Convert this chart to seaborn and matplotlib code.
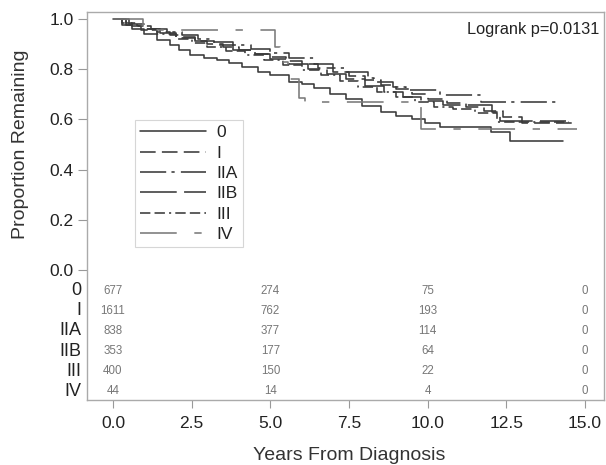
import numpy as np
import pandas as pd
import matplotlib
matplotlib.use('Agg')
import matplotlib.pyplot as plt
import seaborn as sns

# survival curves (step points: time in years, proportion remaining)
stages = ['0', 'I', 'IIA', 'IIB', 'III', 'IV']

t_0 = [0, 0.3, 0.6, 1.0, 1.4, 1.8, 2.1, 2.45, 2.9, 3.3, 3.7, 4.1, 4.6, 5.0, 5.6, 6.0,
       6.4, 6.9, 7.4, 7.9, 8.5, 9.0, 9.5, 9.9, 10.4, 12.0, 12.6, 14.3]
s_0 = [1, 0.975, 0.96, 0.94, 0.918, 0.895, 0.875, 0.855, 0.845, 0.835, 0.826, 0.81, 0.79,
       0.775, 0.751, 0.74, 0.725, 0.70, 0.68, 0.655, 0.63, 0.615, 0.60, 0.585, 0.571,
       0.551, 0.514, 0.514]

t_I = [0, 0.3, 0.6, 1.0, 1.4, 1.8, 2.2, 2.6, 3.0, 3.5, 4.0, 4.5, 5.0, 5.5, 6.0, 6.5, 7.0,
       7.5, 8.0, 8.5, 9.0, 9.5, 10.0, 10.6, 11.2, 11.8, 12.4, 13.0, 14.6]
s_I = [1, 0.985, 0.972, 0.96, 0.948, 0.937, 0.925, 0.914, 0.902, 0.89, 0.876, 0.862, 0.848,
       0.834, 0.82, 0.805, 0.79, 0.773, 0.756, 0.738, 0.72, 0.70, 0.68, 0.664, 0.65, 0.635,
       0.61, 0.585, 0.585]

t_IIA = [0, 0.4, 0.8, 1.2, 1.7, 2.2, 2.7, 3.2, 3.8, 4.4, 5.0, 5.6, 6.4, 7.0, 7.4, 8.1, 8.3,
         8.9, 9.3, 10.4, 11.7, 14.1]
s_IIA = [1, 0.985, 0.972, 0.96, 0.948, 0.935, 0.922, 0.91, 0.895, 0.88, 0.865, 0.845, 0.82,
         0.805, 0.79, 0.765, 0.75, 0.73, 0.718, 0.698, 0.669, 0.669]

t_IIB = [0, 0.5, 1.0, 1.5, 2.0, 2.6, 3.2, 3.8, 4.4, 5.0, 5.6, 6.2, 6.8, 7.4, 8.0, 8.6, 9.2,
         9.8, 10.5, 12.03, 12.3, 14.4]
s_IIB = [1, 0.98, 0.962, 0.945, 0.93, 0.912, 0.895, 0.878, 0.86, 0.842, 0.822, 0.80, 0.78,
         0.76, 0.735, 0.71, 0.69, 0.672, 0.658, 0.631, 0.595, 0.595]

t_III = [0, 0.4, 0.9, 1.4, 2.0, 2.5, 3.0, 3.6, 4.2, 4.8, 5.4, 6.0, 6.6, 7.2, 7.8, 8.4, 9.0,
         9.6, 10.2, 10.8, 11.5, 12.2, 14.5]
s_III = [1, 0.978, 0.958, 0.94, 0.92, 0.905, 0.89, 0.872, 0.855, 0.835, 0.815, 0.795, 0.775,
         0.752, 0.73, 0.708, 0.688, 0.668, 0.65, 0.64, 0.625, 0.59, 0.59]

t_IV = [0, 0.95, 1.4, 5.15, 5.3, 5.55, 5.9, 6.1, 9.8, 14.75]
s_IV = [1, 0.977, 0.955, 0.89, 0.83, 0.76, 0.684, 0.671, 0.56, 0.56]

# numbers at risk
risk_times = [0, 5, 10, 15]
risk_0 = [677, 274, 75, 0]
risk_I = [1611, 762, 193, 0]
risk_IIA = [838, 377, 114, 0]
risk_IIB = [353, 177, 64, 0]
risk_III = [400, 150, 22, 0]
risk_IV = [44, 14, 4, 0]

curves = {'0': (t_0, s_0), 'I': (t_I, s_I), 'IIA': (t_IIA, s_IIA),
          'IIB': (t_IIB, s_IIB), 'III': (t_III, s_III), 'IV': (t_IV, s_IV)}
risk = {'0': risk_0, 'I': risk_I, 'IIA': risk_IIA, 'IIB': risk_IIB,
        'III': risk_III, 'IV': risk_IV}

df = pd.concat([pd.DataFrame({'stage': k, 'years': v[0], 'surv': v[1]})
                for k, v in curves.items()], ignore_index=True)

sns.set_theme(style='white')
plt.rcParams['font.family'] = ['Liberation Sans', 'DejaVu Sans']

dash_map = {'0': '', 'I': (9.8, 3.9), 'IIA': (16.4, 3.3, 2, 3.9), 'IIB': (23, 4.6),
            'III': (6.5, 2.6, 6.5, 2.6, 1.3, 2.6), 'IV': (23, 11, 4.6, 11)}
color_map = {'0': '#3a3a3a', 'I': '#3a3a3a', 'IIA': '#3a3a3a', 'IIB': '#3a3a3a',
             'III': '#3a3a3a', 'IV': '#7a7a7a'}

fig = plt.figure(figsize=(6.06, 4.65), dpi=100)
ax = fig.add_axes([87/606, 1-400/465, (604-87)/606, (400-12)/465])

sns.lineplot(data=df, x='years', y='surv', hue='stage', style='stage',
             hue_order=stages, style_order=stages, palette=color_map, dashes=dash_map,
             estimator=None, sort=False, drawstyle='steps-post', linewidth=1.15, ax=ax)
ax.get_legend().remove()

ax.set_xlim(-0.826, 15.6)
ax.set_ylim(-0.518, 1.028)
ax.set_xticks([0, 2.5, 5, 7.5, 10, 12.5, 15])
ax.set_xticklabels(['0.0', '2.5', '5.0', '7.5', '10.0', '12.5', '15.0'])
ax.set_yticks([0, 0.2, 0.4, 0.6, 0.8, 1.0])
ax.set_yticklabels(['0.0', '0.2', '0.4', '0.6', '0.8', '1.0'])
ax.tick_params(axis='y', direction='out', length=6.5, width=0.8, color='#999999',
               pad=3, labelsize=12.5, labelcolor='#222222', left=True)
ax.tick_params(axis='x', direction='out', length=5.5, width=0.8, color='#999999',
               pad=6, labelsize=12.5, labelcolor='#222222', bottom=True)
for sp in ax.spines.values():
    sp.set_color('#aaaaaa')
    sp.set_linewidth(1.0)

ax.set_xlabel('Years From Diagnosis', fontsize=14, color='#333333')
ax.xaxis.set_label_coords(0.507, -0.122)
ax.set_ylabel('Proportion Remaining', fontsize=14, color='#333333')
ax.yaxis.set_label_coords(-0.112, 0.66)

# risk table inside the frame
row_y = [-0.083, -0.163, -0.243, -0.323, -0.403, -0.483]
ytrans = ax.get_yaxis_transform()
for st, ry in zip(stages, row_y):
    ax.text(-0.01, ry, st, transform=ytrans, ha='right', va='center',
            fontsize=13, color='#222222')
    for rt, n in zip(risk_times, risk[st]):
        ax.text(rt, ry, str(n), ha='center', va='center', fontsize=8.3, color='#777777')

ax.text(0.990, 0.956, 'Logrank p=0.0131', transform=ax.transAxes, ha='right',
        va='center', fontsize=11.8, color='#222222')

leg = ax.legend(handles=ax.lines[:6], labels=stages, loc='upper left',
                bbox_to_anchor=(0.093, 0.722), borderaxespad=0, frameon=True,
                fancybox=False, edgecolor='#cccccc', fontsize=12.5,
                handlelength=3.8, handletextpad=0.6, labelspacing=0.3, borderpad=0.3)
leg.get_frame().set_linewidth(0.8)
for txt in leg.get_texts():
    txt.set_color('#222222')

fig.savefig('out.png', dpi=100)
